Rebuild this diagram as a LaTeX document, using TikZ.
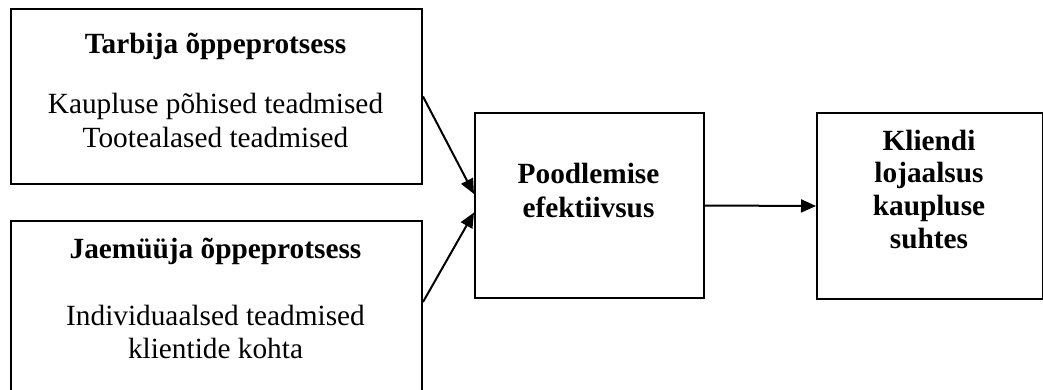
\documentclass[tikz,border=0pt]{standalone}
\usepackage{fontspec}
\setmainfont{Liberation Serif}
\usetikzlibrary{arrows.meta,calc}
\begin{document}
\begin{tikzpicture}[x=1pt,y=-1pt,
  box/.style={draw,line width=2pt,rectangle,inner sep=0pt,anchor=north west},
  lbl/.style={anchor=base,inner sep=0pt,font=\fontsize{29.3}{34}\selectfont},
  hd/.style={anchor=base,inner sep=0pt,font=\fontsize{29.3}{34}\selectfont\bfseries},
  link/.style={line width=2pt,-{Triangle[length=15pt,width=13pt]}}]
  \useasboundingbox (0,0) rectangle (1043,389);
  \clip (0,0) rectangle (1043,389);

  % boxes
  \node[box,minimum width=411pt,minimum height=175pt] (box1) at (10,8) {};
  \node[box,minimum width=411pt,minimum height=200pt] (box2) at (10,220) {};
  \node[box,minimum width=229pt,minimum height=185pt] (mid) at (474,112) {};
  \node[box,minimum width=226pt,minimum height=186pt] (right) at (816,112) {};

  % left box texts
  \node[hd]  (t1)  at (215.5,53)  {Tarbija õppeprotsess};
  \node[lbl] (t1a) at (215.5,113) {Kaupluse põhised teadmised};
  \node[lbl] (t1b) at (215.5,147) {Tootealased teadmised};
  \node[hd]  (t2)  at (215.5,258) {Jaemüüja õppeprotsess};
  \node[lbl] (t2a) at (215.5,325) {Individuaalsed teadmised};
  \node[lbl] (t2b) at (215.5,358) {klientide kohta};

  % middle box text
  \node[hd] (m1) at (588.5,183) {Poodlemise};
  \node[hd] (m2) at (588.5,217) {efektiivsus};

  % right box text
  \node[hd] (r1) at (929,150) {Kliendi};
  \node[hd] (r2) at (929,182) {lojaalsus};
  \node[hd] (r3) at (929,215) {kaupluse};
  \node[hd] (r4) at (929,248) {suhtes};

  % connectors
  \coordinate (s2) at ($(box2.north east)+(0,82)$);
  \draw[link] (box1.east) -- ($(mid.west)+(0,-11.5)$);
  \draw[link] (s2) -- ($(mid.west)+(0,7)$);
  \draw[link] (mid.east) -- (right.west);
\end{tikzpicture}
\end{document}
